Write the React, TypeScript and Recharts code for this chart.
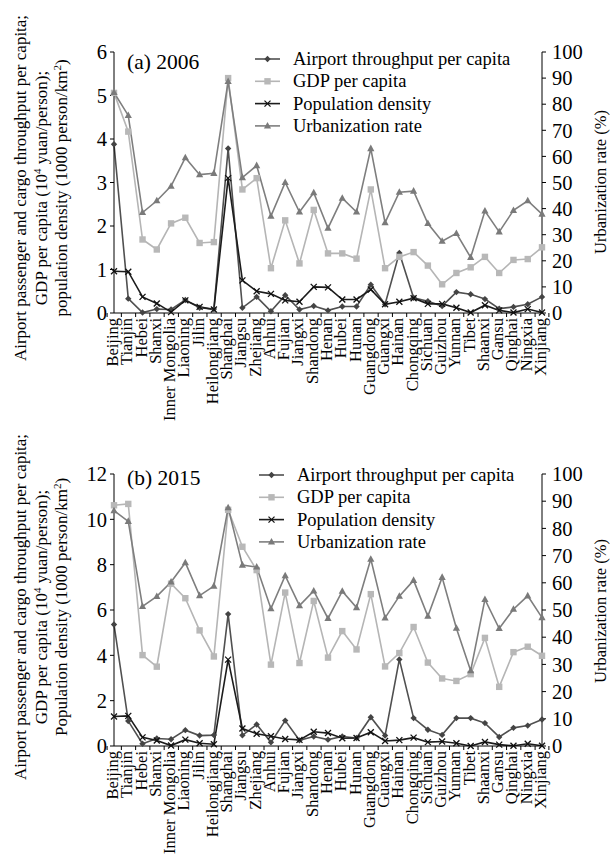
import React from 'react'
import { LineChart, Line, XAxis, YAxis, Customized } from 'recharts'

const FONT = '"Liberation Serif", "Times New Roman", serif'

const provinces = [
  'Beijing', 'Tianjin', 'Hebei', 'Shanxi', 'Inner Mongolia', 'Liaoning', 'Jilin', 'Heilongjiang',
  'Shanghai', 'Jiangsu', 'Zhejiang', 'Anhui', 'Fujian', 'Jiangxi', 'Shandong', 'Henan', 'Hubei',
  'Hunan', 'Guangdong', 'Guangxi', 'Hainan', 'Chongqing', 'Sichuan', 'Guizhou', 'Yunnan', 'Tibet',
  'Shaanxi', 'Gansu', 'Qinghai', 'Ningxia', 'Xinjiang',
]

// (a) 2006
const airport2006 = [3.88, 0.33, 0.01, 0.09, 0.08, 0.3, 0.12, 0.09, 3.78, 0.12, 0.37, 0.04, 0.41, 0.08, 0.16, 0.06, 0.15, 0.15, 0.65, 0.2, 1.38, 0.35, 0.27, 0.16, 0.48, 0.43, 0.32, 0.1, 0.14, 0.2, 0.37]
const gdp2006 = [5.06, 4.17, 1.69, 1.46, 2.06, 2.19, 1.61, 1.63, 5.4, 2.84, 3.1, 1.03, 2.13, 1.14, 2.37, 1.37, 1.37, 1.25, 2.84, 1.03, 1.29, 1.4, 1.09, 0.66, 0.92, 1.05, 1.29, 0.92, 1.22, 1.24, 1.51]
const pop2006 = [0.96, 0.95, 0.37, 0.22, 0.02, 0.29, 0.14, 0.08, 3.1, 0.75, 0.5, 0.44, 0.29, 0.26, 0.6, 0.59, 0.31, 0.31, 0.54, 0.2, 0.26, 0.34, 0.21, 0.21, 0.12, 0.01, 0.18, 0.06, 0.01, 0.09, 0.01]
const urban2006 = [84.5, 75.7, 38.5, 43.0, 48.6, 59.5, 53.0, 53.5, 88.7, 51.9, 56.5, 37.1, 50.0, 38.7, 46.1, 32.5, 44.0, 38.7, 63.0, 34.6, 46.3, 46.7, 34.3, 27.5, 30.5, 21.3, 39.1, 31.1, 39.3, 43.0, 37.9]

// (b) 2015
const airport2015 = [5.36, 1.1, 0.1, 0.33, 0.3, 0.7, 0.46, 0.48, 5.82, 0.47, 0.95, 0.16, 1.12, 0.25, 0.42, 0.28, 0.42, 0.35, 1.27, 0.46, 3.82, 1.23, 0.72, 0.49, 1.23, 1.23, 1.01, 0.4, 0.8, 0.9, 1.17]
const gdp2015 = [10.62, 10.68, 4.01, 3.5, 7.16, 6.52, 5.1, 3.95, 10.42, 8.79, 7.76, 3.59, 6.77, 3.66, 6.4, 3.9, 5.07, 4.26, 6.7, 3.51, 4.1, 5.25, 3.68, 2.98, 2.87, 3.17, 4.77, 2.61, 4.14, 4.38, 3.98]
const pop2015 = [1.3, 1.33, 0.38, 0.24, 0.02, 0.28, 0.12, 0.08, 3.81, 0.77, 0.54, 0.43, 0.31, 0.27, 0.63, 0.57, 0.34, 0.35, 0.61, 0.22, 0.26, 0.37, 0.17, 0.2, 0.12, 0.0, 0.18, 0.06, 0.01, 0.1, 0.01]
const urban2015 = [86.5, 82.6, 51.3, 55.0, 60.3, 67.4, 55.3, 58.8, 87.6, 66.5, 65.8, 50.5, 62.6, 51.6, 57.0, 46.9, 56.9, 50.9, 68.7, 47.1, 55.1, 60.9, 47.7, 62.0, 43.3, 27.7, 53.9, 43.2, 50.3, 55.2, 47.2]

const ticks2006 = [0, 1, 2, 3, 4, 5, 6]
const ticks2015 = [0, 2, 4, 6, 8, 10, 12]
const urbanTicks = [0, 10, 20, 30, 40, 50, 60, 70, 80, 90, 100]

const SERIES = [
  { key: 'airport', label: 'Airport throughput per capita', color: '#505050' },
  { key: 'gdp', label: 'GDP per capita', color: '#b5b5b5' },
  { key: 'pop', label: 'Population density', color: '#1c1c1c' },
  { key: 'urban', label: 'Urbanization rate', color: '#7e7e7e' },
]

const LEFT_W = 114
const RIGHT_W = 71
const PLOT_W = 613 - LEFT_W - RIGHT_W
const BAND = PLOT_W / provinces.length

function marker(key: string, cx: number, cy: number, k?: any) {
  if (cx == null || cy == null) return <g key={k} />
  if (key === 'airport')
    return <polygon key={k} points={`${cx},${cy - 3.2} ${cx + 3.2},${cy} ${cx},${cy + 3.2} ${cx - 3.2},${cy}`} fill="#444" />
  if (key === 'gdp') return <rect key={k} x={cx - 3.2} y={cy - 3.2} width={6.4} height={6.4} fill="#b8b8b8" />
  if (key === 'pop')
    return (
      <g key={k} stroke="#111" strokeWidth={1.3}>
        <line x1={cx - 3} y1={cy - 3} x2={cx + 3} y2={cy + 3} />
        <line x1={cx - 3} y1={cy + 3} x2={cx + 3} y2={cy - 3} />
      </g>
    )
  return <polygon key={k} points={`${cx},${cy - 4} ${cx + 3.6},${cy + 2.6} ${cx - 3.6},${cy + 2.6}`} fill="#7a7a7a" />
}

// eslint-disable-next-line @typescript-eslint/no-explicit-any
const CategoryTick = (props: any) => {
  const { x, y, payload, index } = props
  const axisY = y - 4
  const lx = x + 4
  const ly = y + 1
  return (
    <g>
      <line x1={x - BAND / 2} x2={x - BAND / 2} y1={axisY} y2={axisY + 4} stroke="#000" />
      {index === provinces.length - 1 && (
        <line x1={x + BAND / 2} x2={x + BAND / 2} y1={axisY} y2={axisY + 4} stroke="#000" />
      )}
      <text x={lx} y={ly} transform={`rotate(-90 ${lx} ${ly})`} textAnchor="end" fontSize={16.5} fontFamily={FONT} fill="#000">
        {payload.value}
      </text>
    </g>
  )
}

interface PanelProps {
  title: string
  airport: number[]
  gdp: number[]
  pop: number[]
  urban: number[]
  leftTicks: number[]
  top: number
  height: number
  marginTop: number
  xHeight: number
  legendLeft: number
  legendTop: number
  titleY: number
  densityWord: string
  leftCy: number
  rightCy: number
}

function Panel(p: PanelProps) {
  const data = provinces.map((name, i) => ({
    name,
    airport: p.airport[i],
    gdp: p.gdp[i],
    pop: p.pop[i],
    urban: p.urban[i],
  }))
  const leftMax = p.leftTicks[p.leftTicks.length - 1]

  const leftTitle = () => (
    <g fontFamily={FONT} fontSize={17} fill="#000">
      {[
        <>Airport passenger and cargo throughput per capita;</>,
        <>
          GDP per capita (10<tspan dy={-6} fontSize={11}>4</tspan>
          <tspan dy={6}> yuan/person);</tspan>
        </>,
        <>
          {p.densityWord} density (1000 person/km<tspan dy={-6} fontSize={11}>2</tspan>
          <tspan dy={6}>)</tspan>
        </>,
      ].map((content, i) => {
        const bx = 26 + i * 20.5
        return (
          <text key={i} x={bx} y={p.leftCy} transform={`rotate(-90 ${bx} ${p.leftCy})`} textAnchor="middle">
            {content}
          </text>
        )
      })}
    </g>
  )

  const rightTitle = () => (
    <text x={606} y={p.rightCy} transform={`rotate(-90 606 ${p.rightCy})`} textAnchor="middle" fontFamily={FONT} fontSize={16.5} fill="#000">
      Urbanization rate (%)
    </text>
  )

  const overlay = () => (
    <g fontFamily={FONT} fill="#000">
      <text x={127} y={p.titleY} fontSize={21.5}>
        {p.title}
      </text>
      {SERIES.map((s, i) => {
        const cy = p.legendTop + 11 + i * 22.3
        const lx = p.legendLeft
        return (
          <g key={s.key}>
            <line x1={lx} x2={lx + 25} y1={cy} y2={cy} stroke={s.color} strokeWidth={1.6} />
            {marker(s.key, lx + 12.5, cy)}
            <text x={lx + 38} y={cy + 6} fontSize={18.5}>
              {s.label}
            </text>
          </g>
        )
      })}
    </g>
  )

  return (
    <div style={{ position: 'absolute', left: 0, top: p.top }}>
      <LineChart width={613} height={p.height} data={data} margin={{ top: p.marginTop, right: 0, left: 0, bottom: 0 }}>
        <XAxis
          dataKey="name"
          xAxisId="x"
          interval={0}
          height={p.xHeight}
          tickLine={false}
          tickSize={4}
          tickMargin={0}
          axisLine={{ stroke: '#000' }}
          tick={<CategoryTick />}
        />
        <YAxis
          yAxisId="left"
          width={LEFT_W}
          domain={[0, leftMax]}
          ticks={p.leftTicks}
          interval={0}
          tickSize={4}
          tickMargin={3}
          axisLine={{ stroke: '#000' }}
          tickLine={{ stroke: '#000' }}
          tick={{ fill: '#000', fontSize: 20.5, fontFamily: FONT }}
          label={leftTitle}
        />
        <YAxis
          yAxisId="right"
          orientation="right"
          width={RIGHT_W}
          domain={[0, 100]}
          ticks={urbanTicks}
          interval={0}
          tickSize={4}
          tickMargin={6}
          axisLine={{ stroke: '#000' }}
          tickLine={{ stroke: '#000' }}
          tick={{ fill: '#000', fontSize: 20.5, fontFamily: FONT, textAnchor: 'start' }}
          label={rightTitle}
        />
        <Customized component={overlay} />
        {SERIES.map((s) => (
          <Line
            key={s.key}
            xAxisId="x"
            yAxisId={s.key === 'urban' ? 'right' : 'left'}
            dataKey={s.key}
            type="linear"
            stroke={s.color}
            strokeWidth={1.6}
            // eslint-disable-next-line @typescript-eslint/no-explicit-any
            dot={(d: any) => marker(s.key, d.cx, d.cy, `${s.key}-${d.index}`)}
            activeDot={false}
            isAnimationActive={false}
          />
        ))}
      </LineChart>
    </div>
  )
}

export default function App() {
  return (
    <div style={{ position: 'absolute', left: 0, top: 0, width: 613, height: 855, background: '#fff', fontFamily: FONT }}>
      <Panel
        title="(a) 2006"
        airport={airport2006}
        gdp={gdp2006}
        pop={pop2006}
        urban={urban2006}
        leftTicks={ticks2006}
        top={0}
        height={430}
        marginTop={52}
        xHeight={117}
        legendLeft={255}
        legendTop={48}
        titleY={69}
        densityWord="population"
        leftCy={188}
        rightCy={182}
      />
      <Panel
        title="(b) 2015"
        airport={airport2015}
        gdp={gdp2015}
        pop={pop2015}
        urban={urban2015}
        leftTicks={ticks2015}
        top={420}
        height={435}
        marginTop={54}
        xHeight={109}
        legendLeft={259}
        legendTop={44}
        titleY={65}
        densityWord="Population"
        leftCy={187}
        rightCy={191}
      />
    </div>
  )
}
